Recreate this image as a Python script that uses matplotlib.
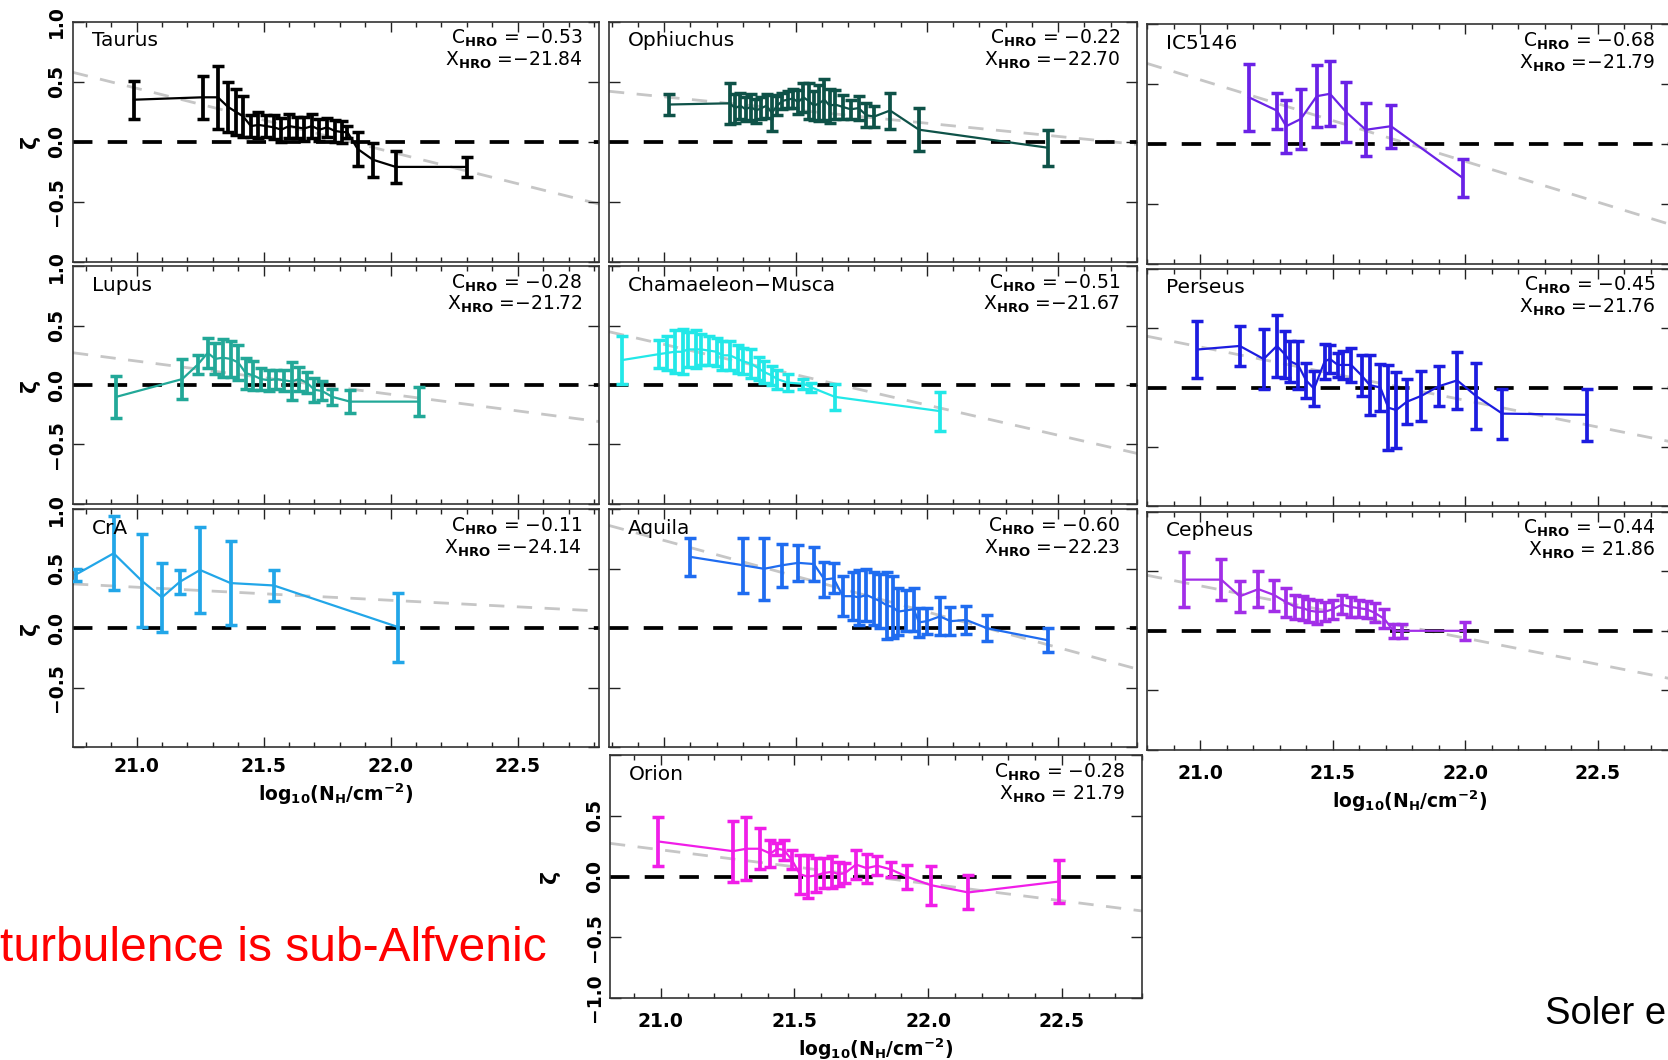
import matplotlib
matplotlib.use('Agg')
import matplotlib.pyplot as plt
from matplotlib.ticker import MultipleLocator, FixedLocator
import numpy as np

plt.rcParams['font.family'] = ['DejaVu Sans']
plt.rcParams['lines.scale_dashes'] = False
plt.rcParams['mathtext.fontset'] = 'dejavusans'

# ---------------- data ----------------
names = ['Taurus', 'Ophiuchus', 'IC5146', 'Lupus', 'Chamaeleon\u2212Musca',
         'Perseus', 'CrA', 'Aquila', 'Cepheus', 'Orion']
colors = ['#000000', '#0e5248', '#6a22e6', '#22a898', '#22e8e8',
          '#1c1ce0', '#22a6e8', '#1f6cf0', '#a22ee8', '#f01ee8']
c_hro = [-0.53, -0.22, -0.68, -0.28, -0.51, -0.45, -0.11, -0.60, -0.44, -0.28]
x_hro = [21.84, 22.70, 21.79, 21.72, 21.67, 21.76, 24.14, 22.23, 21.86, 21.79]
x_hro_sep = ['=\u2212'] * 8 + ['= ', '= ']

taurus_x = [20.99, 21.26, 21.32, 21.36, 21.39, 21.42, 21.45, 21.48, 21.51, 21.54, 21.57, 21.60,
            21.63, 21.66, 21.69, 21.72, 21.75, 21.78, 21.81, 21.83, 21.87, 21.93, 22.02, 22.30]
taurus_y = [0.35, 0.37, 0.37, 0.29, 0.25, 0.21, 0.13, 0.14, 0.13, 0.12, 0.10, 0.13,
            0.12, 0.11, 0.13, 0.10, 0.12, 0.09, 0.08, 0.08, -0.06, -0.15, -0.21, -0.21]
taurus_err = [0.16, 0.18, 0.26, 0.21, 0.19, 0.17, 0.09, 0.11, 0.09, 0.10, 0.10, 0.10,
              0.09, 0.10, 0.10, 0.09, 0.08, 0.09, 0.09, 0.05, 0.145, 0.14, 0.13, 0.085]

oph_x = [21.02, 21.25, 21.27, 21.29, 21.31, 21.33, 21.35, 21.37, 21.39, 21.41, 21.43, 21.45,
         21.47, 21.49, 21.51, 21.53, 21.55, 21.57, 21.59, 21.61, 21.63, 21.65, 21.68, 21.71,
         21.74, 21.77, 21.80, 21.86, 21.97, 22.46]
oph_y = [0.31, 0.32, 0.28, 0.30, 0.27, 0.29, 0.26, 0.28, 0.30, 0.24, 0.30, 0.34,
         0.35, 0.36, 0.33, 0.37, 0.34, 0.30, 0.32, 0.35, 0.30, 0.31, 0.29, 0.27,
         0.28, 0.22, 0.21, 0.26, 0.10, -0.05]
oph_err = [0.09, 0.17, 0.12, 0.11, 0.10, 0.11, 0.10, 0.09, 0.10, 0.15, 0.08, 0.07,
           0.07, 0.08, 0.10, 0.12, 0.15, 0.12, 0.15, 0.17, 0.14, 0.12, 0.10, 0.08,
           0.10, 0.10, 0.09, 0.15, 0.18, 0.15]

ic_x = [21.185, 21.29, 21.325, 21.38, 21.44, 21.49, 21.55, 21.625, 21.72, 21.99]
ic_y = [0.39, 0.28, 0.15, 0.21, 0.40, 0.42, 0.27, 0.12, 0.15, -0.28]
ic_err = [0.28, 0.15, 0.22, 0.25, 0.26, 0.27, 0.25, 0.22, 0.18, 0.16]

lupus_x = [20.92, 21.18, 21.24, 21.28, 21.31, 21.34, 21.37, 21.40, 21.43, 21.46, 21.49,
           21.52, 21.55, 21.58, 21.61, 21.64, 21.67, 21.70, 21.73, 21.77, 21.84, 22.11]
lupus_y = [-0.10, 0.05, 0.17, 0.27, 0.22, 0.23, 0.22, 0.19, 0.10, 0.08, 0.05,
           0.04, 0.05, 0.04, 0.03, 0.05, 0.02, -0.04, -0.05, -0.10, -0.14, -0.14]
lupus_err = [0.18, 0.17, 0.08, 0.13, 0.13, 0.16, 0.15, 0.15, 0.13, 0.12, 0.09,
             0.09, 0.08, 0.09, 0.16, 0.10, 0.09, 0.10, 0.08, 0.07, 0.10, 0.12]

cham_x = [20.84, 20.98, 21.01, 21.04, 21.07, 21.09, 21.12, 21.14, 21.17, 21.20, 21.22, 21.25,
          21.28, 21.30, 21.33, 21.36, 21.38, 21.41, 21.43, 21.47, 21.53, 21.56, 21.65, 22.05]
cham_y = [0.21, 0.26, 0.27, 0.28, 0.28, 0.30, 0.30, 0.30, 0.29, 0.28, 0.25, 0.25,
          0.22, 0.20, 0.18, 0.14, 0.11, 0.08, 0.05, 0.02, 0.01, -0.02, -0.10, -0.22]
cham_err = [0.20, 0.12, 0.14, 0.18, 0.19, 0.15, 0.16, 0.13, 0.12, 0.12, 0.12, 0.12,
            0.12, 0.11, 0.12, 0.10, 0.09, 0.08, 0.08, 0.07, 0.04, 0.04, 0.11, 0.165]

per_x = [20.99, 21.15, 21.24, 21.29, 21.32, 21.34, 21.37, 21.40, 21.43, 21.47, 21.49, 21.52,
         21.54, 21.57, 21.61, 21.64, 21.68, 21.71, 21.74, 21.78, 21.835, 21.90, 21.97, 22.04,
         22.14, 22.46]
per_y = [0.32, 0.35, 0.24, 0.35, 0.28, 0.22, 0.19, 0.06, -0.01, 0.22, 0.24, 0.19,
         0.19, 0.19, 0.10, 0.02, 0.00, -0.17, -0.19, -0.12, -0.07, 0.01, 0.06, -0.07,
         -0.22, -0.23]
per_err = [0.24, 0.17, 0.25, 0.26, 0.20, 0.17, 0.20, 0.15, 0.15, 0.15, 0.12, 0.10,
           0.12, 0.14, 0.17, 0.25, 0.20, 0.36, 0.32, 0.19, 0.21, 0.17, 0.24, 0.28,
           0.21, 0.22]

cra_x = [20.76, 20.91, 21.02, 21.10, 21.17, 21.25, 21.37, 21.54, 22.03]
cra_y = [0.45, 0.63, 0.40, 0.26, 0.39, 0.49, 0.38, 0.36, 0.01]
cra_err = [0.05, 0.31, 0.39, 0.29, 0.10, 0.36, 0.35, 0.13, 0.29]

aql_x = [21.10, 21.30, 21.38, 21.45, 21.51, 21.57, 21.61, 21.645, 21.68, 21.72, 21.74, 21.77,
         21.80, 21.82, 21.85, 21.87, 21.89, 21.92, 21.95, 21.97, 22.00, 22.05, 22.09, 22.15,
         22.23, 22.46]
aql_y = [0.60, 0.53, 0.50, 0.53, 0.55, 0.54, 0.41, 0.42, 0.27, 0.27, 0.26, 0.28,
         0.25, 0.23, 0.19, 0.18, 0.14, 0.15, 0.16, 0.05, 0.06, 0.10, 0.06, 0.07,
         0.00, -0.10]
aql_err = [0.16, 0.23, 0.26, 0.18, 0.15, 0.14, 0.15, 0.125, 0.17, 0.20, 0.23, 0.22,
           0.22, 0.23, 0.28, 0.26, 0.20, 0.17, 0.18, 0.12, 0.11, 0.16, 0.12, 0.12,
           0.11, 0.10]

cep_x = [20.94, 21.08, 21.15, 21.22, 21.28, 21.325, 21.36, 21.39, 21.41, 21.44, 21.47,
         21.50, 21.535, 21.57, 21.60, 21.63, 21.66, 21.695, 21.73, 21.76, 22.00]
cep_y = [0.43, 0.43, 0.29, 0.35, 0.30, 0.24, 0.20, 0.19, 0.17, 0.16, 0.16,
         0.18, 0.22, 0.20, 0.19, 0.18, 0.15, 0.10, 0.00, 0.00, 0.00]
cep_err = [0.23, 0.17, 0.13, 0.15, 0.13, 0.12, 0.10, 0.10, 0.10, 0.10, 0.08,
           0.08, 0.08, 0.08, 0.07, 0.07, 0.08, 0.08, 0.06, 0.06, 0.075]

ori_x = [20.99, 21.27, 21.32, 21.37, 21.41, 21.435, 21.46, 21.49, 21.52, 21.55, 21.58, 21.61,
         21.64, 21.665, 21.69, 21.73, 21.77, 21.81, 21.86, 21.92, 22.01, 22.15, 22.49]
ori_y = [0.29, 0.21, 0.23, 0.23, 0.19, 0.23, 0.22, 0.14, 0.02, 0.00, 0.01, 0.03,
         0.04, 0.02, 0.03, 0.10, 0.07, 0.09, 0.06, 0.00, -0.07, -0.13, -0.04]
ori_err = [0.20, 0.25, 0.26, 0.17, 0.11, 0.05, 0.08, 0.08, 0.16, 0.18, 0.14, 0.12,
           0.13, 0.10, 0.08, 0.12, 0.12, 0.08, 0.06, 0.10, 0.16, 0.14, 0.18]

series = [(taurus_x, taurus_y, taurus_err), (oph_x, oph_y, oph_err), (ic_x, ic_y, ic_err),
          (lupus_x, lupus_y, lupus_err), (cham_x, cham_y, cham_err), (per_x, per_y, per_err),
          (cra_x, cra_y, cra_err), (aql_x, aql_y, aql_err), (cep_x, cep_y, cep_err),
          (ori_x, ori_y, ori_err)]

xtick_vals = [21.0, 21.5, 22.0, 22.5]
xtick_labels = ['21.0', '21.5', '22.0', '22.5']

# ---------------- layout ----------------
W, H = 1668, 1060
fig = plt.figure(figsize=(W / 100, H / 100), dpi=100)


def rect(l, t, r, b):
    return [l / W, 1 - b / H, (r - l) / W, (b - t) / H]


cols = [(73, 599, (20.75, 22.82)), (609, 1137, (20.79, 22.80)), (1147, 1672, (20.80, 22.78))]
rows = [(21.7, 261.7), (266.3, 503.7), (509.3, 747.3)]
col_dy = [0, 0, 2.5]

specs = []
for r in range(3):
    for c in range(3):
        l, rr, xl = cols[c]
        t, b = rows[r]
        specs.append((rect(l, t + col_dy[c], rr, b + col_dy[c]), xl))
specs.append((rect(610, 755.3, 1142, 998), (20.81, 22.80)))

xlabel_txt = 'log$_{\\mathbf{10}}$(N$_{\\mathbf{H}}$/cm$^{\\mathbf{-2}}$)'

for i, (rc, xl) in enumerate(specs):
    ax = fig.add_axes(rc)
    ax.set_xlim(*xl)
    ax.set_ylim(-1, 1)
    xs, ys, es = series[i]
    xx = np.linspace(xl[0], xl[1], 50)
    ax.plot(xx, c_hro[i] * (xx - x_hro[i]), color='#c6c6c6', lw=2.0, dashes=(11, 9), zorder=1)
    ax.axhline(0, color='black', lw=2.7, dashes=(14, 11), zorder=2)
    ax.errorbar(xs, ys, yerr=es, color=colors[i], lw=1.6, elinewidth=2.7,
                capsize=4.5, capthick=2.5, zorder=3)

    ax.xaxis.set_major_locator(FixedLocator(xtick_vals))
    ax.xaxis.set_minor_locator(MultipleLocator(0.1))
    ax.yaxis.set_major_locator(FixedLocator([-1.0, -0.5, 0.0, 0.5, 1.0]))
    ax.tick_params(which='both', direction='in', top=True, right=True, width=1.0, color='#222222')
    ax.tick_params(which='major', length=7)
    ax.tick_params(which='minor', length=3.5)
    ax.tick_params(axis='y', which='major', length=8)
    for s in ax.spines.values():
        s.set_linewidth(1.2)
        s.set_color('#333333')

    bottom_label = i in (6, 8, 9)
    if bottom_label:
        ax.set_xticks(xtick_vals)
        ax.set_xticklabels(xtick_labels, fontsize=13.5, fontweight='bold')
        ax.tick_params(axis='x', pad=7 if i == 6 else 10)
        ax.set_xlabel(xlabel_txt, fontsize=13.5, fontweight='bold', labelpad=4)
    else:
        ax.set_xticklabels([])

    if i in (0, 3, 6):
        ax.set_yticks([-1.0, -0.5, 0.0, 0.5, 1.0])
        ax.set_yticklabels(['', '\u22120.5', '0.0', '0.5', '1.0'], fontsize=13.5,
                           fontweight='bold', rotation=90, va='center')
        ax.tick_params(axis='y', pad=5)
        ax.text(-0.082, 0.5, '\u03b6', transform=ax.transAxes, rotation=90,
                ha='center', va='center', fontsize=16, fontweight='bold')
    elif i == 9:
        ax.set_yticks([-1.0, -0.5, 0.0, 0.5, 1.0])
        ax.set_yticklabels(['\u22121.0', '\u22120.5', '0.0', '0.5', ''], fontsize=13.5,
                           fontweight='bold', rotation=90, va='center')
        ax.tick_params(axis='y', pad=4)
        ax.text(-0.113, 0.5, '\u03b6', transform=ax.transAxes, rotation=90,
                ha='center', va='center', fontsize=16, fontweight='bold')
    else:
        ax.set_yticklabels([])

    ax.text(0.036, 0.92, names[i], transform=ax.transAxes, fontsize=14.5,
            ha='left', va='center', zorder=5)
    ax.text(0.968, 0.93, 'C$_{\\mathbf{HRO}}$ = \u2212%.2f' % abs(c_hro[i]),
            transform=ax.transAxes, fontsize=13.5, ha='right', va='center', zorder=5)
    ax.text(0.968, 0.838, 'X$_{\\mathbf{HRO}}$ %s%.2f' % (x_hro_sep[i], x_hro[i]),
            transform=ax.transAxes, fontsize=13.5, ha='right', va='center', zorder=5)

fig.text(0.0, 0.093, 'turbulence is sub-Alfvenic', color='red', fontsize=34.5,
         family=['Liberation Sans', 'DejaVu Sans'], ha='left', va='baseline')
fig.text(0.926, 0.034, 'Soler e', color='black', fontsize=27.5,
         family=['Liberation Sans', 'DejaVu Sans'], ha='left', va='baseline')

fig.savefig('out.png', dpi=100)
